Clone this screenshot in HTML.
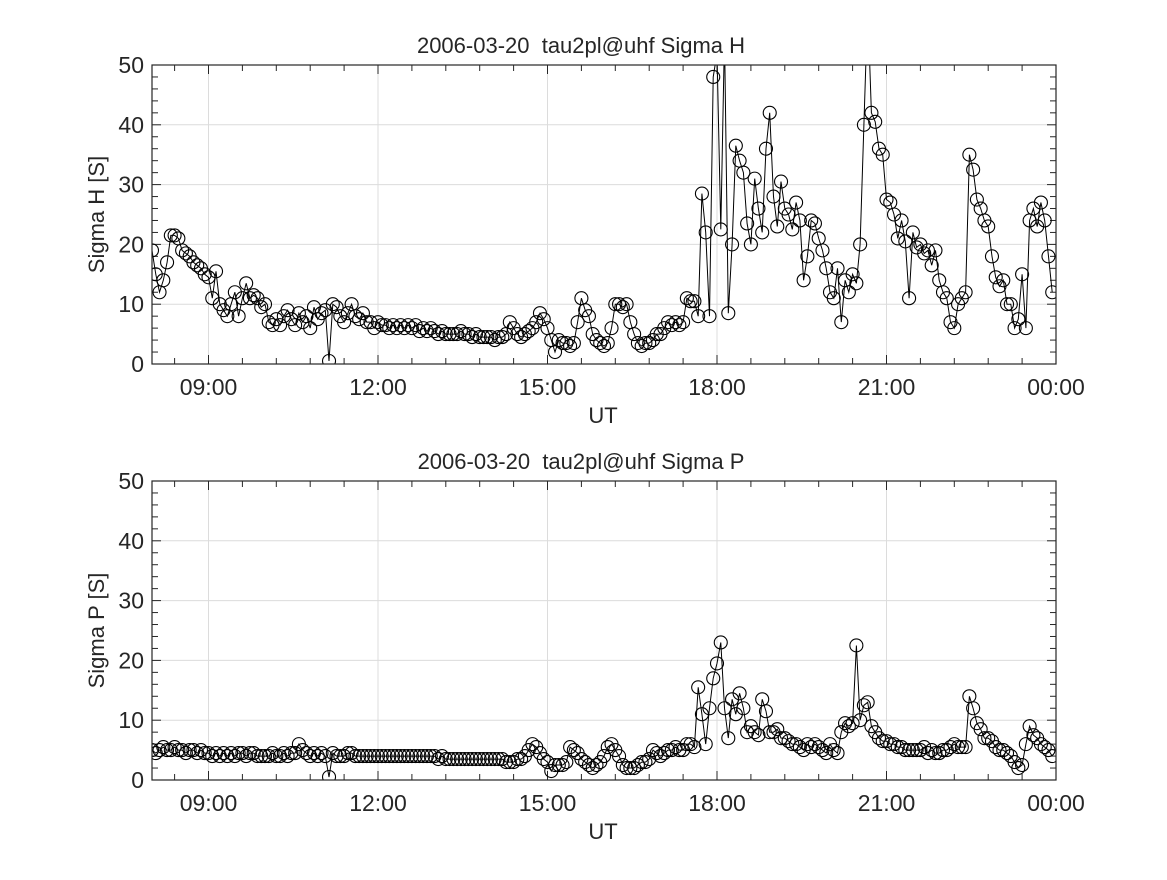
<!DOCTYPE html>
<html><head><meta charset="utf-8"><style>
body{margin:0;background:#fff;}
svg text{font-family:"Liberation Sans","DejaVu Sans",sans-serif;fill:#262626;white-space:pre;}
</style></head><body>
<svg id="fig" width="1167" height="875" xmlns="http://www.w3.org/2000/svg"></svg>
<script>
const xTickLabels=["09:00","12:00","15:00","18:00","21:00","00:00"];
const xTickHours=[9,12,15,18,21,24];
const yTicks=[0,10,20,30,40,50];
const tStart=8.0, tStep=1/15;
const sigmaH=[
19,15,12,14,17,21.5,21.5,21,19,18.5,18,17,16.5,16,15,
14.5,11,15.5,10,9,8,10,12,8,11,13.5,11,11.5,11,9.5,
10,7,6.5,7.5,6.5,8,9,7.5,6.5,8.5,7,8,6,9.5,7.5,
8.5,9,0.5,10,9.5,8,7,8.5,10,8,7.5,8.5,7,7,6,
7,6.5,6.5,6,6.5,6,6.5,6,6.5,6,6.5,5.5,6,5.5,6,
5.5,5,5.5,5,5,5,5,5.5,5,5,4.5,5,4.5,4.5,4.5,
4.5,4,4.5,4.5,5,7,6,5,4.5,5,5.5,6,7,8.5,7.5,
6,4,2,4,3.5,3.5,3,3.5,7,11,9,8,5,4,3.5,
3,3.5,6,10,10,9.5,10,7,5,3.5,3,3.5,3.5,4,5,
5,6,7,6.5,7,6.5,7,11,10.5,10.5,8,28.5,22,8,48,
52,22.5,55,8.5,20,36.5,34,32,23.5,20,31,26,22,36,42,
28,23,30.5,26,25,22.5,27,24,14,18,24,23.5,21,19,16,
12,11,16,7,14,12,15,13.5,20,40,60,42,40.5,36,35,
27.5,27,25,21,24,20.5,11,22,19.5,20,18.5,19,16.5,19,14,
12,11,7,6,10,11,12,35,32.5,27.5,26,24,23,18,14.5,
13,14,10,10,6,7.5,15,6,24,26,23,27,24,18,12];
const sigmaP=[
5,4.5,5,5.5,5,5,5.5,5,5,4.5,5,5,4.5,5,4.5,
4.5,4,4.5,4,4.5,4,4.5,4,4.5,4.5,4,4.5,4.5,4,4,
4,4,4.5,4,4,4.5,4,4.5,4.5,6,5,4.5,4,4.5,4,
4.5,4,0.5,4.5,4,4,4,4.5,4.5,4,4,4,4,4,4,
4,4,4,4,4,4,4,4,4,4,4,4,4,4,4,
4,3.5,4,3.5,3.5,3.5,3.5,3.5,3.5,3.5,3.5,3.5,3.5,3.5,3.5,
3.5,3.5,3.5,3.5,3,3,3,3.5,3.5,4,5,6,5.5,4.5,3.5,
3,1.5,2.5,2.5,2.5,3,5.5,5,4.5,3.5,3,2.5,2,2.5,3,
4,5.5,6,5,4,2.5,2,2,2,2.5,3,3,3.5,5,4.5,
4,4.5,5,5,5.5,5,5,6,6,5.5,15.5,11,6,12,17,
19.5,23,12,7,13.5,11,14.5,12,8,9,8,7.5,13.5,11.5,8,
8,8.5,7,7,6.5,6,6,5.5,5,6,5.5,6,5.5,5,4.5,
6,5,4.5,8,9.5,9,9.5,22.5,10,12.5,13,9,8,7,6.5,
6.5,6,6,5.5,5.5,5,5,5,5,5,5.5,4.5,5,4.5,4.5,
5,5,5.5,6,5.5,5.5,5.5,14,12,9.5,8.5,7,7,6.5,5.5,
5,5,4.5,4,3,2,2.5,6,9,7.5,7,6,5.5,5,4];
const NS="http://www.w3.org/2000/svg";
const svg=document.getElementById('fig');
function mk(tag,attrs,parent){const e=document.createElementNS(NS,tag);for(const k in attrs)e.setAttribute(k,attrs[k]);(parent||svg).appendChild(e);return e;}
function panel(top,data,title,ylab,key){
  const L=152,R=1056,T=top,B=top+299;
  const xs=h=>L+(h-8)/(24-8)*(R-L);
  const ys=v=>B-v/50*(B-T);
  const g=mk('g',{});
  
  
  mk('rect',{x:L,y:T,width:R-L,height:B-T,fill:'#fff'},g);
  xTickHours.forEach(h=>{const l=mk('line',{x1:xs(h),x2:xs(h),y1:T,y2:B,stroke:'#dcdcdc','stroke-width':1},g);});
  yTicks.forEach(v=>{const l=mk('line',{x1:L,x2:R,y1:ys(v),y2:ys(v),stroke:'#dcdcdc','stroke-width':1},g);});
  for(let h=8.4;h<24.01;h+=0.6){const x=xs(h);const mj=Math.abs(h-Math.round(h))<0.01&&Math.round(h)%3==0;const len=mj?9:6;
    mk('line',{x1:x,x2:x,y1:B,y2:B-len,stroke:'#262626'},g);mk('line',{x1:x,x2:x,y1:T,y2:T+len,stroke:'#262626'},g);}
  for(let v=0;v<=50;v+=2){const y=ys(v);const len=v%10==0?9:6;
    mk('line',{x1:L,x2:L+len,y1:y,y2:y,stroke:'#262626'},g);mk('line',{x1:R,x2:R-len,y1:y,y2:y,stroke:'#262626'},g);}
  const cp=mk('clipPath',{id:'c'+key},g);mk('rect',{x:L,y:T,width:R-L,height:B-T},cp);
  const dg=mk('g',{'clip-path':'url(#c'+key+')'},g);
  let d='';data.forEach((v,i)=>{d+=(i?'L':'M')+xs(tStart+i*tStep).toFixed(1)+' '+ys(v).toFixed(1);});
  const ln=mk('path',{d:d,fill:'none',stroke:'#000','stroke-width':1},dg);
  
  
  data.forEach((v,i)=>{const c=mk('circle',{cx:xs(tStart+i*tStep),cy:ys(v),r:6.5,fill:'none',stroke:'#000','stroke-width':1.1},dg);
    
    });
  mk('rect',{x:L,y:T,width:R-L,height:B-T,fill:'none',stroke:'#262626','stroke-width':1.2},g);
  xTickHours.forEach((h,i)=>{const t=mk('text',{x:xs(h),y:B+31,'text-anchor':'middle','font-size':23},g);t.textContent=xTickLabels[i];});
  yTicks.forEach(v=>{const t=mk('text',{x:L-8,y:ys(v)+8,'text-anchor':'end','font-size':23},g);t.textContent=v;});
  const tt=mk('text',{x:581,y:T-12,'text-anchor':'middle','font-size':22},g);tt.textContent=title;
  
  const xl=mk('text',{x:(L+R)/2-1,y:B+59,'text-anchor':'middle','font-size':22},g);xl.textContent='UT';
  
  const yl=mk('text',{x:0,y:0,'text-anchor':'middle','font-size':22,transform:'translate(104,'+((T+B)/2)+') rotate(-90)'},g);yl.textContent=ylab;
  
}
panel(65,sigmaH,'2006-03-20  tau2pl@uhf Sigma H','Sigma H [S]','sigma-h');
panel(481,sigmaP,'2006-03-20  tau2pl@uhf Sigma P','Sigma P [S]','sigma-p');
</script>
</body></html>
